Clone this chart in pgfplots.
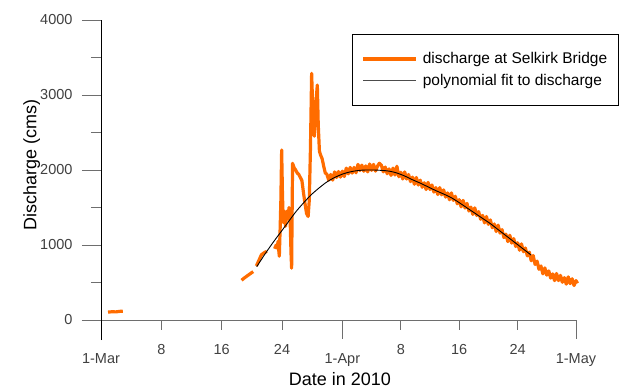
\documentclass[border=0pt]{standalone}
\usepackage{fontspec}
\setmainfont{Liberation Sans}
\usepackage{pgfplots}
\pgfplotsset{compat=1.18}
\definecolor{dorange}{RGB}{255,108,0}
\definecolor{tickgray}{RGB}{110,110,110}
\begin{document}
\begin{tikzpicture}
\path[use as bounding box] (-82pt,-49pt) rectangle (537pt,340pt);
\begin{axis}[
  at={(0pt,0pt)}, anchor=south west,
  scale only axis, width=494pt, height=320pt,
  xmin=-2.44, xmax=61, ymin=-266.7, ymax=4000,
  axis x line=middle, axis y line=middle,
  axis line style={-},
  x axis line style={draw=tickgray, line width=0.8pt},
  y axis line style={draw=black, line width=0.8pt},
  tick align=outside,
  major tick length=19pt, minor tick length=10pt,
  xtick={0,31,61}, xticklabels={1-Mar,1-Apr,1-May},
  extra x ticks={7.75,15.5,23.25,38.5,46,53.5},
  extra x tick labels={8,16,24,8,16,24},
  extra x tick style={major tick length=10pt},
  xticklabel style={yshift=-11pt},
  yticklabel style={xshift=-6pt},
  ytick={0,1000,2000,3000,4000}, minor y tick num=1,
  hide obscured x ticks=false, hide obscured y ticks=false,
  tick style={draw=tickgray, line width=0.8pt},
  every tick label/.append style={font=\fontsize{14.5}{17}\selectfont, text=black!75},
  /pgf/number format/assume math mode=true,
  /pgf/number format/1000 sep={},
  every axis x label/.style={at={(axis description cs:0.522,-0.122)}, anchor=center, font=\fontsize{18}{21}\selectfont},
  every axis y label/.style={at={(axis description cs:-0.102,0.547)}, rotate=90, anchor=center, font=\fontsize{18}{21}\selectfont},
  xlabel={Date in 2010}, ylabel={Discharge (cms)},
  legend style={at={(axis description cs:0.5466,0.956)}, anchor=north west, draw=black, line width=0.8pt,
    font=\fontsize{15.5}{19}\selectfont, inner xsep=9pt, inner ysep=16pt, nodes={inner sep=2pt}, row sep=5pt, column sep=3pt},
  legend cell align=left,
  unbounded coords=jump,
  clip=false,
]
\addplot[color=dorange, line width=3.2pt, line join=round,
  legend image code/.code={\draw[dorange, line width=3.4pt] (0pt,0pt) -- (53pt,0pt);}]
coordinates {
(0.9,105) (1.4,110) (1.9,108) (2.4,115) (2.8,118) (3,nan)
(18.05,530) (18.4,560) (18.8,590) (19.2,620) (19.55,645) (19.7,nan)
(19.95,720) (20.3,800) (20.6,870) (21.0,900) (21.3,915) (21.8,nan)
(22.3,950) (22.5,1000) (22.6,960) (22.75,1050) (22.85,900) (22.9,850) (23.0,1200) (23.1,1600) (23.2,2267) (23.3,1700)
(23.4,1300) (23.55,1450) (23.7,1250) (23.85,1450) (24.0,1350) (24.15,1500) (24.3,1300) (24.4,900) (24.48,690) (24.55,1500)
(24.6,2089) (24.8,2030) (25.0,2000) (25.2,1960) (25.4,1940) (25.6,1900) (25.8,1860) (26.0,1700) (26.2,1550) (26.4,1420)
(26.6,1380) (26.75,1600) (26.9,2300) (27.05,3289) (27.2,2800) (27.4,2450) (27.6,2900) (27.78,3133) (27.9,2600) (28.05,2250)
(28.2,2200) (28.4,2150) (28.6,2050) (28.8,1960)
(29.00,1945) (29.25,1865) (29.5,1940) (29.75,1865) (30,1975) (30.25,1900) (30.5,1980) (30.75,1905)
(31,1985) (31.25,1913) (31.5,2025) (31.75,1948) (32,2035) (32.25,1958) (32.5,2035) (32.75,1963)
(33,2075) (33.25,1993) (33.5,2065) (33.75,1983) (34,2055) (34.25,1975) (34.5,2080) (34.75,1995)
(35,2075) (35.25,1985) (35.5,2050) (35.75,2090) (36,2065) (36.25,1975) (36.5,2040) (36.75,1950)
(37,2015) (37.25,1928) (37.5,2025) (37.75,1933) (38,2050) (38.25,1910) (38.5,1970) (38.75,1880)
(39,1975) (39.25,1880) (39.5,1940) (39.75,1845) (40,1905) (40.25,1810) (40.5,1900) (40.75,1800)
(41,1865) (41.25,1770) (41.5,1830) (41.75,1740) (42,1835) (42.25,1740) (42.5,1800) (42.75,1705)
(43,1765) (43.25,1673) (43.5,1765) (43.75,1668) (44,1735) (44.25,1638) (44.5,1695) (44.75,1603)
(45,1695) (45.25,1595) (45.5,1650) (45.75,1550) (46,1605) (46.25,1508) (46.5,1595) (46.75,1493)
(47,1555) (47.25,1453) (47.5,1505) (47.75,1408) (48,1495) (48.25,1393) (48.5,1445) (48.75,1343)
(49,1395) (49.25,1295) (49.5,1380) (49.75,1275) (50,1335) (50.25,1230) (50.5,1280) (50.75,1180)
(51,1265) (51.25,1158) (51.5,1205) (51.75,1098) (52,1145) (52.25,1045) (52.5,1130) (52.75,1025)
(53,1085) (53.25,980) (53.5,1030) (53.75,930) (54,1015) (54.25,910) (54.5,960) (54.75,855)
(55,905) (55.25,790) (55.5,860) (55.75,740) (56,785) (56.25,675) (56.5,720) (56.75,615)
(57,695) (57.25,598) (57.5,655) (57.75,558) (58,615) (58.25,525) (58.5,620) (58.75,525)
(59,595) (59.25,503) (59.5,565) (59.75,478) (60,575) (60.25,485) (60.5,550) (60.75,460)
(61,525) (61.2,490)
};
\addlegendentry{discharge at Selkirk Bridge\hspace{25pt}}
\addplot[color=black, line width=0.9pt, smooth,
  legend image code/.code={\draw[black!70, line width=1pt] (0pt,0pt) -- (53pt,0pt);}]
coordinates {
(20.0,711) (21,870) (22,1020) (23,1160) (24,1300) (25,1440) (26,1560) (27,1670) (28,1760) (29,1840)
(30,1900) (31,1945) (32,1975) (33,1993) (34,2000) (35,2000) (36,1995) (37,1985) (38,1960) (39,1920)
(40,1870) (41,1825) (42,1775) (43,1725) (44,1680) (45,1630) (46,1565) (47,1495) (48,1425) (49,1355)
(50,1285) (51,1205) (52,1125) (53,1045) (54,965) (55,885) (55.2,867)
};
\addlegendentry{polynomial fit to discharge}
\end{axis}
\end{tikzpicture}
\end{document}
